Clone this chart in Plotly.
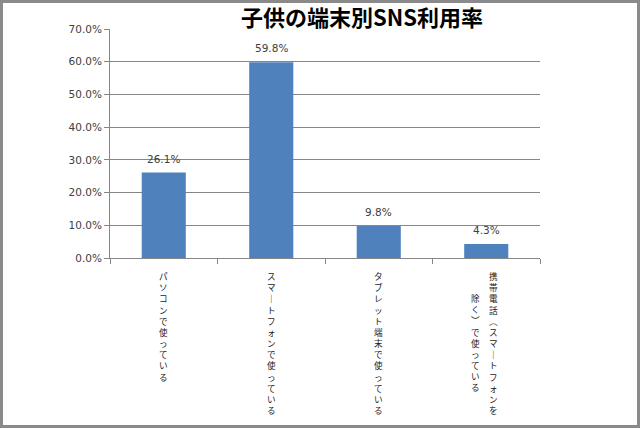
import plotly.graph_objects as go

# ---- data ----
title_text = "子供の端末別SNS利用率"
categories = [
    "パソコンで使っている",
    "スマートフォンで使っている",
    "タブレット端末で使っている",
    "携帯電話（スマートフォンを除く）で使っている",
]
values = [26.1, 59.8, 9.8, 4.3]
y_ticks = [0, 10, 20, 30, 40, 50, 60, 70]
y_tick_text = ["0.0%", "10.0%", "20.0%", "30.0%", "40.0%", "50.0%", "60.0%", "70.0%"]

# ---- layout constants ----
W, H = 640, 428
ML, MR, MT, MB = 110, 100, 29, 170
PW, PH = W - ML - MR, H - MT - MB
BAR_COLOR = "#4F81BD"
AXIS_GRAY = "#868686"
TEXT_GRAY = "#404040"
CJK = "Noto Sans CJK JP"
NUM_FONT = "DejaVu Sans"

fig = go.Figure()
fig.add_trace(go.Bar(
    x=categories, y=values,
    marker=dict(color=BAR_COLOR, line=dict(width=0)),
    hoverinfo="x+y",
))

annotations = []
# value labels above bars
for cat, v in zip(categories, values):
    annotations.append(dict(
        x=cat, xref="x", y=v, yref="y", text=f"{v:.1f}%", showarrow=False,
        xanchor="center", yanchor="middle", yshift=14,
        font=dict(family=NUM_FONT, size=10.5, color=TEXT_GRAY),
    ))

# vertical (stacked, upright) category labels, one annotation per column
VERT = {"ー": "｜", "（": "︵", "）": "︶"}
WRAP = 13
LBL_SIZE = 8.6
PITCH = LBL_SIZE * 1.3
TOP = 11
for cat in categories:
    chars = [VERT.get(c, c) for c in cat]
    cols = [chars[i:i + WRAP] for i in range(0, len(chars), WRAP)]
    xs = [0] if len(cols) == 1 else [7, -11]
    for j, col in enumerate(cols):
        off = (len(cols[0]) - len(col)) / 2.0
        annotations.append(dict(
            x=cat, xref="x", y=0, yref="paper",
            text="<br>".join(col), showarrow=False,
            xanchor="center", yanchor="top", align="center",
            xshift=xs[j], yshift=-(TOP + off * PITCH), borderpad=0,
            font=dict(family=CJK, size=LBL_SIZE, color="#1a1a1a"),
        ))

fig.update_layout(
    width=W, height=H,
    margin=dict(l=ML, r=MR, t=MT, b=MB, pad=0),
    paper_bgcolor="white", plot_bgcolor="white",
    showlegend=False,
    bargap=0.59,
    title=dict(
        text=title_text, x=362 / W, xanchor="center",
        y=1 - 18 / H, yanchor="middle", yref="container",
        font=dict(family=CJK, size=22, weight="bold", color="#000000"),
    ),
    xaxis=dict(
        type="category", showline=True, linecolor=AXIS_GRAY, linewidth=1,
        ticks="outside", tickson="boundaries", ticklen=5, tickcolor=AXIS_GRAY,
        showticklabels=False, showgrid=False, zeroline=False,
    ),
    yaxis=dict(
        range=[0, 70], tickmode="array", tickvals=y_ticks, ticktext=y_tick_text,
        showline=True, linecolor=AXIS_GRAY, linewidth=1,
        ticks="outside", ticklen=5, tickcolor=AXIS_GRAY,
        showgrid=True, gridcolor=AXIS_GRAY, gridwidth=1, zeroline=False,
        tickfont=dict(family=NUM_FONT, size=10.5, color=TEXT_GRAY),
    ),
    annotations=annotations,
    shapes=[dict(
        type="rect", xref="paper", yref="paper",
        x0=(-ML + 1.5) / PW, x1=1 + (MR - 1.5) / PW,
        y0=(-MB + 1.5) / PH, y1=1 + (MT - 1.5) / PH,
        line=dict(color="#8a8a8a", width=3), fillcolor="rgba(0,0,0,0)",
        layer="above",
    )],
)

fig.write_html("out.html")
